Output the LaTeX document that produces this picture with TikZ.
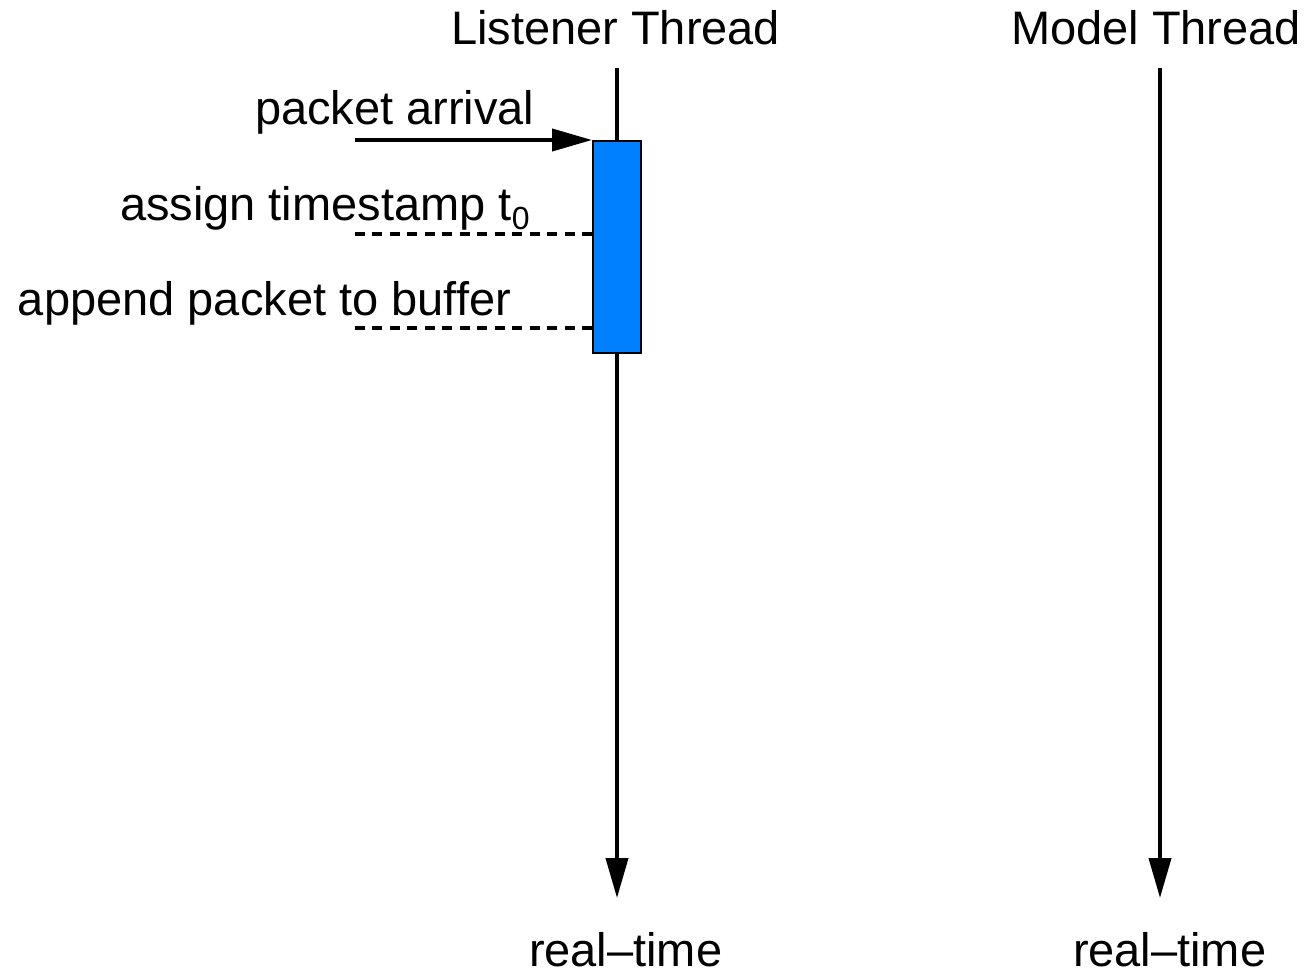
\documentclass[tikz,border=0pt]{standalone}
\usepackage{fontspec}
\setmainfont{Liberation Sans}
\usetikzlibrary{arrows.meta,positioning}
\definecolor{busyblue}{RGB}{0,128,255}

\begin{document}
\begin{tikzpicture}[x=0.5pt, y=-0.5pt, line width=2pt, font=\fontsize{23.5}{28}\selectfont, every node/.style={inner sep=0pt, anchor=base west}, thread/.style={-{Triangle[length=20pt,width=11pt]}}, tick/.style={line width=2.2pt, dash pattern=on 5pt off 3.73pt}]
  \useasboundingbox (0,0) rectangle (1306,974);
  % thread names and time axes
  \node (lname) at (449,45) {Listener Thread};
  \node (mname) at (1009,45) {Model Thread};
  \coordinate (ltop) at (617,68);
  \coordinate (lend) at (617,898);
  \coordinate (mtop) at (1160,68);
  \coordinate (mend) at (1160,898);
  \node (ltime) at (527,966) {real--time};
  \node (mtime) at (1071,966) {real--time};
  \draw[thread] (ltop) -- (lend);
  \draw[thread] (mtop) -- (mend);
  % busy period of the listener
  \node[rectangle, draw, line width=1pt, fill=busyblue, minimum width=24pt, minimum height=106pt, anchor=north west] (recv) at (592,140) {};
  \coordinate (pin) at (355,140);
  \coordinate (tsin) at (355,234);
  \coordinate (bufin) at (355,328);
  \draw[thread] (pin) -- (recv.north west);
  \draw[tick] (tsin) -- (tsin -| recv.west);
  \draw[tick] (bufin) -- (bufin -| recv.west);
  \node (plabel) at (253,125) {packet arrival};
  \node (tslabel) at (118,220) {assign timestamp t\raisebox{-5pt}{\fontsize{16}{16}\selectfont 0}};
  \node (buflabel) at (16,315) {append packet to buffer};
\end{tikzpicture}
\end{document}
